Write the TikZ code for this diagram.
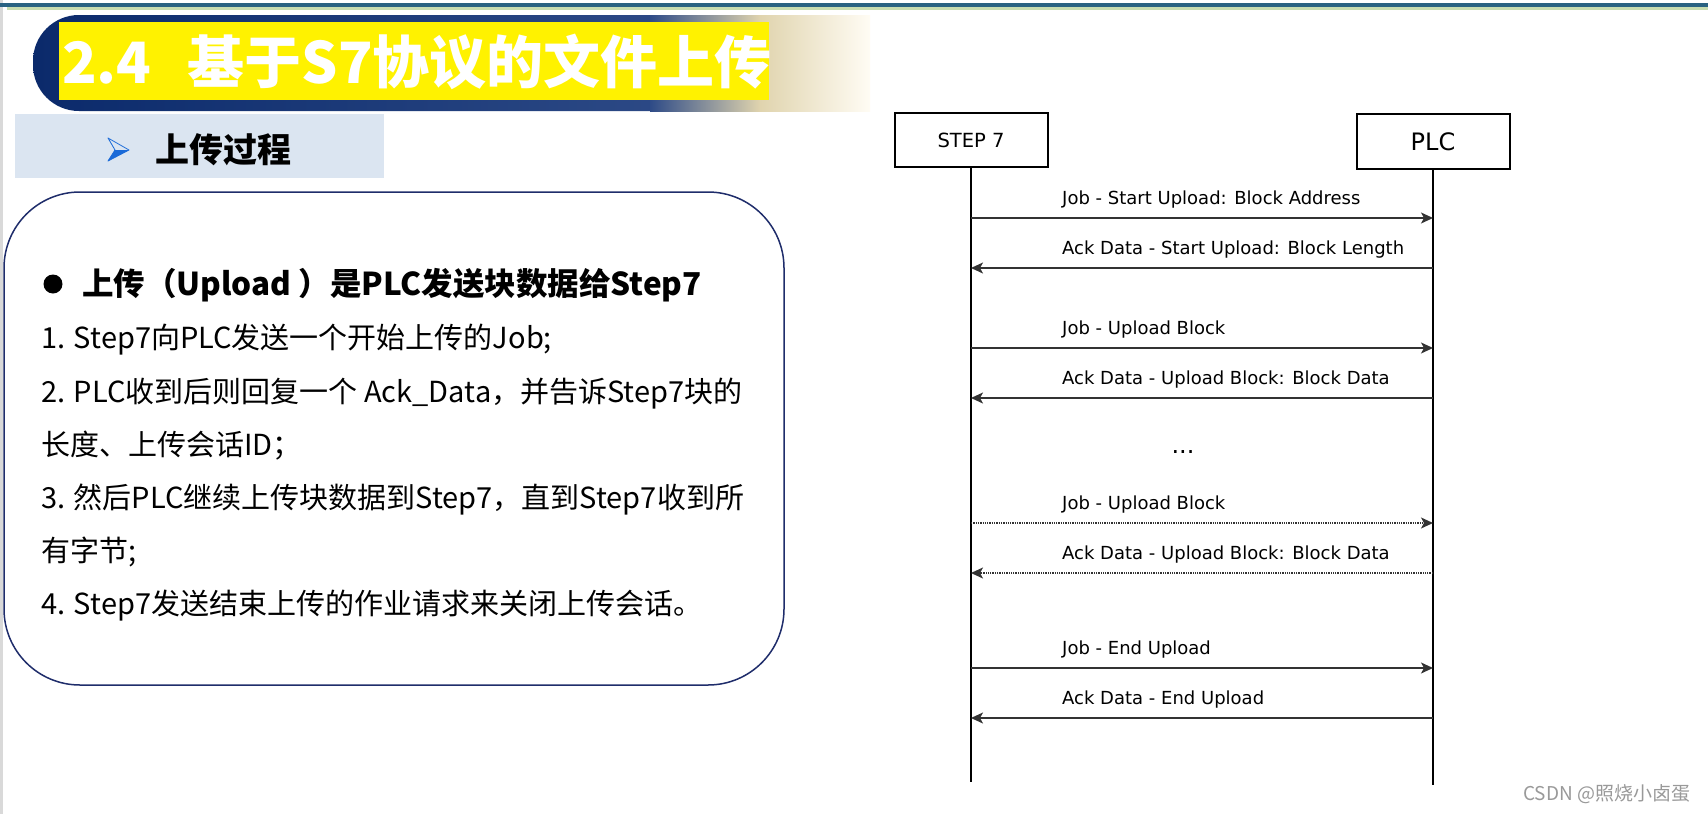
\documentclass[tikz,border=0pt]{standalone}
\usepackage{fontspec}
\setmainfont{Noto Sans CJK SC}
\newfontfamily\seqfont{DejaVu Sans}
\usetikzlibrary{arrows.meta}
\definecolor{bandteal}{HTML}{2A6282}
\definecolor{bandgreen}{HTML}{C8DCB0}
\definecolor{navy}{HTML}{0B2A6B}
\definecolor{navylight}{HTML}{2E4B87}
\definecolor{cream}{HTML}{E0D4AE}
\definecolor{paleend}{HTML}{FFFCF4}
\definecolor{subbox}{HTML}{DBE5F1}
\definecolor{boxline}{HTML}{1F2D6B}
\definecolor{bulletblue}{HTML}{1A6AD8}
\tikzset{
  body/.style={anchor=base west, inner sep=0pt, font=\fontsize{29}{29}\selectfont},
  actor/.style={draw, line width=2pt, minimum width=153pt, minimum height=54pt, inner sep=0pt},
  msg/.style={line width=1.3pt, draw=black!80, -{Stealth[length=12pt,width=11pt,inset=3pt]}},
  msglabel/.style={anchor=base west, inner sep=0pt, font=\seqfont\fontsize{18}{18}\selectfont},
}

\begin{document}
\begin{tikzpicture}[x=1pt,y=-1pt]
  \useasboundingbox (0,0) rectangle (1708,814);
  \fill[white] (0,0) rectangle (1708,814);
  \fill[black!15] (0,0) rectangle (3,814);
  \fill[bandteal] (0,3) rectangle (1708,7);
  \fill[bandgreen] (7,7) rectangle (1708,9.5);

  \shade[left color=navy, right color=navylight, rounded corners=46pt] (33,15) rectangle (700,111);
  \shade[left color=navylight, right color=cream] (650,15) rectangle (760,111);
  \shade[left color=cream, right color=paleend] (760,15) rectangle (870,111);
  \fill[yellow] (59,22) rectangle (769,100);
  \node[anchor=base west, inner sep=0pt, text=white, font=\fontsize{57}{57}\selectfont\bfseries] (title) at (62,83) {2.4\hspace{36pt}基于S7协议的文件上传};

  \fill[subbox] (15,114) rectangle (384,178);
  \fill[bulletblue] (108,161) -- (129,150) -- (115,150) -- cycle;
  \draw[bulletblue, line width=0.8pt, line join=round] (108,138) -- (129,150) -- (108,161) -- (115,150) -- cycle;
  \node[anchor=base west, inner sep=0pt, font=\fontsize{34}{34}\selectfont\bfseries] (subtitle) at (155,162) {上传过程};

  \draw[boxline, line width=1.5pt, rounded corners=76pt] (4,192) rectangle (784,685);
  \fill (53,284) circle (9.5pt);
  \node[body, font=\fontsize{31.5}{31.5}\selectfont\bfseries] (head) at (82,295) {上传（Upload ）是PLC发送块数据给Step7};
  \node[body] (l1) at (41,348) {1. Step7向PLC发送一个开始上传的Job;};
  \node[body] (l2) at (41,402) {2. PLC收到后则回复一个 Ack\_Data，并告诉Step7块的};
  \node[body] (l3) at (41,455) {长度、上传会话ID；};
  \node[body] (l4) at (41,508) {3. 然后PLC继续上传块数据到Step7，直到Step7收到所};
  \node[body] (l5) at (41,561) {有字节;};
  \node[body] (l6) at (41,614) {4. Step7发送结束上传的作业请求来关闭上传会话。};

  \node[actor, font=\seqfont\fontsize{19.5}{19.5}\selectfont] (step) at (971,140) {STEP 7};
  \node[actor, minimum height=55pt, font=\seqfont\fontsize{24}{24}\selectfont] (plc) at (1433,141.5) {PLC};
  \coordinate (stepend) at (971,782);
  \coordinate (plcend) at (1433,785);
  \draw[line width=2pt] (step.south) -- (stepend);
  \draw[line width=2pt] (plc.south) -- (plcend);

  \foreach \i/\y/\from/\to/\sty/\txt in {
    1/218/s/p/solid/{Job - Start Upload: Block Address},
    2/268/p/s/solid/{Ack Data - Start Upload: Block Length},
    3/348/s/p/solid/{Job - Upload Block},
    4/398/p/s/solid/{Ack Data - Upload Block: Block Data},
    6/523/s/p/densely dotted/{Job - Upload Block},
    7/573/p/s/densely dotted/{Ack Data - Upload Block: Block Data},
    8/668/s/p/solid/{Job - End Upload},
    9/718/p/s/solid/{Ack Data - End Upload}} {
    \coordinate (s\i) at (971,\y);
    \coordinate (p\i) at (1433,\y);
    \draw[msg,\sty] (\from\i) -- (\to\i);
    \node[msglabel] (m\i) at (1062,\y-14) {\txt};
  }
  \node[inner sep=0pt, font=\seqfont\fontsize{24}{24}\selectfont] (gap) at (1183,452) {...};

  \node[anchor=base west, inner sep=0pt, text=black!40, font=\fontsize{19}{19}\selectfont] (mark) at (1523,800) {CSDN @照烧小卤蛋};
\end{tikzpicture}
\end{document}
